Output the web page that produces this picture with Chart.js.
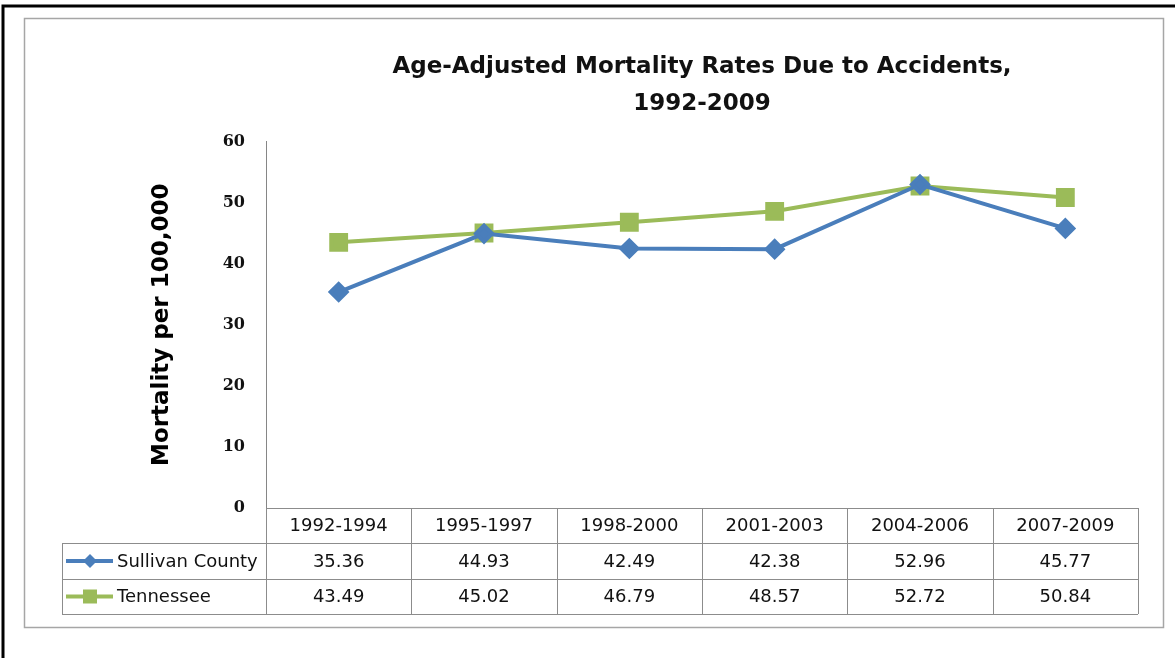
<!DOCTYPE html>
<html>
<head>
<title>Age-Adjusted Mortality Rates Due to Accidents</title>
<script src="https://cdn.jsdelivr.net/npm/chart.js"></script>
<style>
  body { margin: 0; background: #fff; }
</style>
</head>
<body>

<canvas id="myChart" width="1175" height="658"></canvas>

<script>
  // Daten
  const periods = ['1992-1994', '1995-1997', '1998-2000', '2001-2003', '2004-2006', '2007-2009'];
  const sullivan = [35.36, 44.93, 42.49, 42.38, 52.96, 45.77];
  const tennessee = [43.49, 45.02, 46.79, 48.57, 52.72, 50.84];
  const seriesNames = ['Sullivan County', 'Tennessee'];
  const yTicks = [0, 10, 20, 30, 40, 50, 60];

  const blue = '#4a7ebb';
  const green = '#9bbb59';
  const gridGray = '#8c8c8c';

  // Rahmen um das Diagramm
  const framePlugin = {
    id: 'frame',
    beforeDraw(chart) {
      const c = chart.ctx;
      c.save();
      c.fillStyle = '#fff';
      c.fillRect(0, 0, chart.width, chart.height);
      c.strokeStyle = '#000';
      c.lineWidth = 3;
      c.beginPath();
      c.moveTo(3, chart.height + 5);
      c.lineTo(3, 6);
      c.lineTo(chart.width + 5, 6);
      c.stroke();
      c.strokeStyle = '#a6a6a6';
      c.lineWidth = 1.5;
      c.strokeRect(24.5, 18.5, 1139, 609);
      c.restore();
    }
  };

  function drawMarker(c, style, x, y, color) {
    c.fillStyle = color;
    c.beginPath();
    if (style === 'rect') {
      c.rect(x - 7, y - 7, 14, 14);
    } else {
      c.moveTo(x, y - 7);
      c.lineTo(x + 7, y);
      c.lineTo(x, y + 7);
      c.lineTo(x - 7, y);
      c.closePath();
    }
    c.fill();
  }

  // Datentabelle unter der x-Achse
  const tablePlugin = {
    id: 'dataTable',
    afterDraw(chart) {
      const c = chart.ctx;
      const xs = chart.scales.x;
      const area = chart.chartArea;
      const colW = (area.right - area.left) / periods.length;
      const top = area.bottom;
      const rows = [top, top + 35, top + 71, top + 106];
      const legendLeft = 62;

      c.save();
      c.strokeStyle = gridGray;
      c.lineWidth = 1;
      c.beginPath();
      // waagrechte Linien
      c.moveTo(area.left, Math.round(rows[0]) + 0.5);
      c.lineTo(area.right, Math.round(rows[0]) + 0.5);
      for (let r = 1; r < rows.length; r++) {
        c.moveTo(legendLeft, Math.round(rows[r]) + 0.5);
        c.lineTo(area.right, Math.round(rows[r]) + 0.5);
      }
      // senkrechte Linien
      for (let i = 0; i <= periods.length; i++) {
        const lx = Math.round(area.left + i * colW) + 0.5;
        c.moveTo(lx, rows[0]);
        c.lineTo(lx, rows[3]);
      }
      c.moveTo(legendLeft + 0.5, rows[1]);
      c.lineTo(legendLeft + 0.5, rows[3]);
      c.stroke();

      c.fillStyle = '#111';
      c.font = '18px "DejaVu Sans"';
      c.textAlign = 'center';
      c.textBaseline = 'middle';
      periods.forEach((p, i) => {
        c.fillText(p, xs.getPixelForValue(i), (rows[0] + rows[1]) / 2 + 1);
      });

      chart.data.datasets.forEach((ds, d) => {
        const cy = (rows[d + 1] + rows[d + 2]) / 2 + 1;
        c.fillStyle = '#111';
        c.textAlign = 'center';
        ds.data.forEach((v, i) => {
          c.fillText(v.toFixed(2), xs.getPixelForValue(i), cy);
        });
        // Legendeneintrag
        c.strokeStyle = ds.borderColor;
        c.lineWidth = 4;
        c.beginPath();
        c.moveTo(legendLeft + 4, cy - 1);
        c.lineTo(legendLeft + 51, cy - 1);
        c.stroke();
        drawMarker(c, ds.pointStyle, legendLeft + 28, cy - 1, ds.borderColor);
        c.fillStyle = '#111';
        c.textAlign = 'left';
        c.fillText(seriesNames[d], legendLeft + 55, cy);
      });
      c.restore();
    }
  };

  const ctx = document.getElementById('myChart').getContext('2d');
  const myChart = new Chart(ctx, {
    type: 'line',
    data: {
      labels: periods,
      datasets: [{
        label: seriesNames[0],
        data: sullivan,
        borderColor: blue,
        backgroundColor: blue,
        borderWidth: 4,
        pointStyle: 'rectRot',
        pointRadius: 8,
        pointHoverRadius: 8,
        tension: 0
      }, {
        label: seriesNames[1],
        data: tennessee,
        borderColor: green,
        backgroundColor: green,
        borderWidth: 4,
        pointStyle: 'rect',
        pointRadius: 10.5,
        pointHoverRadius: 10.5,
        tension: 0
      }]
    },
    options: {
      responsive: false,
      animation: false,
      layout: {
        padding: { left: 24, right: 37, top: 0, bottom: 150 }
      },
      plugins: {
        legend: { display: false },
        tooltip: { enabled: false },
        title: {
          display: true,
          fullSize: false,
          text: ['Age-Adjusted Mortality Rates Due to Accidents,', '1992-2009'],
          color: '#111',
          font: { family: '"DejaVu Sans"', size: 23, weight: 'bold', lineHeight: 1.62 },
          padding: { top: 48, bottom: 19 }
        }
      },
      scales: {
        x: {
          display: false,
          offset: true
        },
        y: {
          min: 0,
          max: 60,
          afterBuildTicks(scale) {
            scale.ticks = yTicks.map(v => ({ value: v }));
          },
          afterFit(scale) {
            scale.width = 266 - 24;
          },
          grid: { display: false, drawTicks: false },
          border: { display: true, color: '#868686', width: 1 },
          ticks: {
            color: '#111',
            padding: 21,
            font: { family: '"DejaVu Serif"', size: 16, weight: 'bold' }
          },
          title: {
            display: true,
            text: 'Mortality per 100,000',
            color: '#000',
            font: { family: '"DejaVu Sans"', size: 23, weight: 'bold' },
            padding: { top: 124, bottom: 0 }
          }
        }
      }
    },
    plugins: [framePlugin, tablePlugin]
  });
</script>

</body>
</html>
